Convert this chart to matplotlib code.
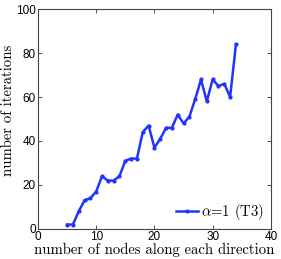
import matplotlib
matplotlib.use("Agg")
import matplotlib.pyplot as plt

x = [5, 6, 7, 8, 9, 10, 11, 12, 13, 14, 15, 16, 17, 18, 19, 20, 21, 22, 23, 24,
     25, 26, 27, 28, 29, 30, 31, 32, 33, 34]
y = [2, 2, 8, 13, 14, 17, 24, 22, 22, 24, 31, 32, 32, 44, 47, 37, 41, 46, 46, 52,
     48, 51, 59, 68, 58, 68, 65, 66, 60, 84]
xticks = [0, 10, 20, 30, 40]
yticks = [0, 20, 40, 60, 80, 100]

plt.rcParams['mathtext.fontset'] = 'cm'
fig = plt.figure(figsize=(2.81, 2.59), dpi=100)
ax = fig.add_axes([0.135, 0.116, 0.829, 0.849])
ax.plot(x, y, color='#1f35ff', lw=1.8, marker='.', ms=4, label=r'$\alpha$=1 (T3)')
ax.set_xlim(0, 40)
ax.set_ylim(0, 100)
ax.set_xticks(xticks)
ax.set_yticks(yticks)
ax.tick_params(direction='in', top=True, right=True, length=3, width=0.6,
               labelsize=8.5, pad=1.5, colors='#333333', labelcolor='black')
for lab in ax.get_xticklabels() + ax.get_yticklabels():
    lab.set_family('Liberation Sans')
for s in ax.spines.values():
    s.set_linewidth(0.8)
    s.set_color('#444444')
ax.set_xlabel('number of nodes along each direction', family='cmr10', fontsize=10.6, labelpad=0)
ax.set_ylabel('number of iterations', family='cmr10', fontsize=10.6)
ax.yaxis.set_label_coords(-0.098, 0.54)
leg = ax.legend(loc='lower right', frameon=False, prop={'family': 'cmr10', 'size': 10.6},
                handlelength=1.5, handletextpad=0.2, borderaxespad=0.05)
fig.savefig('out.png', dpi=100)
